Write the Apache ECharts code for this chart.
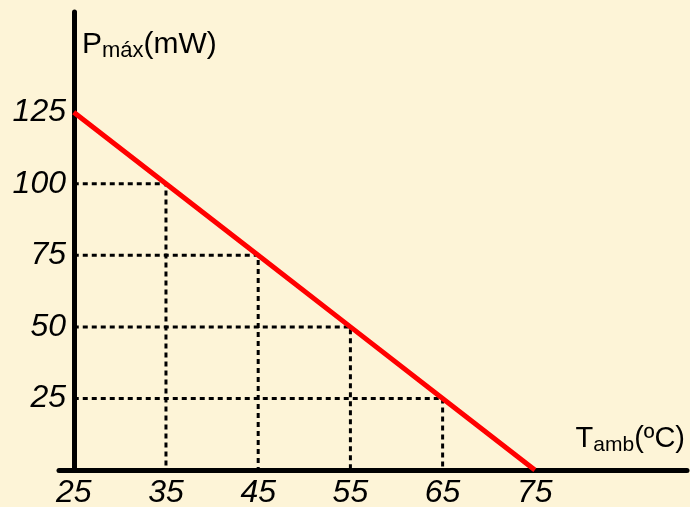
<!DOCTYPE html>
<html>
<head>
<meta charset="utf-8">
<script src="https://cdn.jsdelivr.net/npm/echarts@6/dist/echarts.min.js"></script>
<style>
  html, body { margin: 0; padding: 0; background: #fdf4d7; }
  #chart { width: 690px; height: 507px; }
</style>
</head>
<body>
<div id="chart"></div>
<script>
// ambient temperature (ºC) vs maximum power (mW)
const tempValues = [25, 35, 45, 55, 65, 75];
const powerValues = [125, 100, 75, 50, 25, 0];
const tempTicks = [25, 35, 45, 55, 65, 75];
const powerTicks = [25, 50, 75, 100, 125];

const chart = echarts.init(document.getElementById('chart'));
const font = 'Liberation Sans, Arial, sans-serif';

// dotted guides from the inner points down / across to the axes
const guides = [];
for (let i = 0; i < tempValues.length; i++) {
  const t = tempValues[i], p = powerValues[i];
  if (t === tempValues[0] || p === 0) continue;
  guides.push({
    type: 'line',
    data: [[tempValues[0], p], [t, p], [t, 0]],
    symbol: 'none',
    silent: true,
    z: 1,
    lineStyle: { color: '#000', width: 3, type: [5, 4] }
  });
}

const option = {
  backgroundColor: '#fdf4d7',
  animation: false,
  grid: { left: 59, right: 3, top: 12, bottom: 37, containLabel: false, outerBoundsMode: 'none' },
  xAxis: {
    type: 'value',
    min: 23.4,
    max: 91.5,
    splitLine: { show: false },
    axisTick: { show: false },
    axisLine: { lineStyle: { color: '#000', width: 5, cap: 'round' } },
    axisLabel: {
      customValues: tempTicks,
      color: '#000',
      fontSize: 32,
      fontStyle: 'italic',
      fontFamily: font,
      margin: 7
    },
    name: '{a|T}{b|amb}{a|(ºC)}',
    nameLocation: 'end',
    nameGap: -2,
    nameTextStyle: {
      align: 'right',
      verticalAlign: 'bottom',
      padding: [0, 0, 14, 0],
      rich: {
        a: { fontSize: 29, lineHeight: 34, color: '#000', fontFamily: font },
        b: { fontSize: 21, lineHeight: 20, verticalAlign: 'bottom', color: '#000', fontFamily: font }
      }
    }
  },
  yAxis: {
    type: 'value',
    min: 0,
    max: 160,
    offset: -15,
    splitLine: { show: false },
    axisTick: { show: false },
    axisLine: { onZero: false, lineStyle: { color: '#000', width: 5, cap: 'round' } },
    axisLabel: {
      customValues: powerTicks,
      color: '#000',
      fontSize: 32,
      fontStyle: 'italic',
      fontFamily: font,
      margin: 8,
      padding: [0, 0, 6, 0]
    },
    name: '{a|P}{b|máx}{a|(mW)}',
    nameLocation: 'end',
    nameGap: -16,
    nameTextStyle: {
      align: 'left',
      verticalAlign: 'top',
      padding: [0, 0, 0, 8],
      rich: {
        a: { fontSize: 30, lineHeight: 34, color: '#000', fontFamily: font },
        b: { fontSize: 22, lineHeight: 20, verticalAlign: 'bottom', color: '#000', fontFamily: font }
      }
    }
  },
  series: guides.concat([{
    type: 'line',
    data: tempValues.map((t, i) => [t, powerValues[i]]),
    symbol: 'none',
    z: 5,
    lineStyle: { color: '#ff0000', width: 5 }
  }])
};

chart.setOption(option);
</script>
</body>
</html>
